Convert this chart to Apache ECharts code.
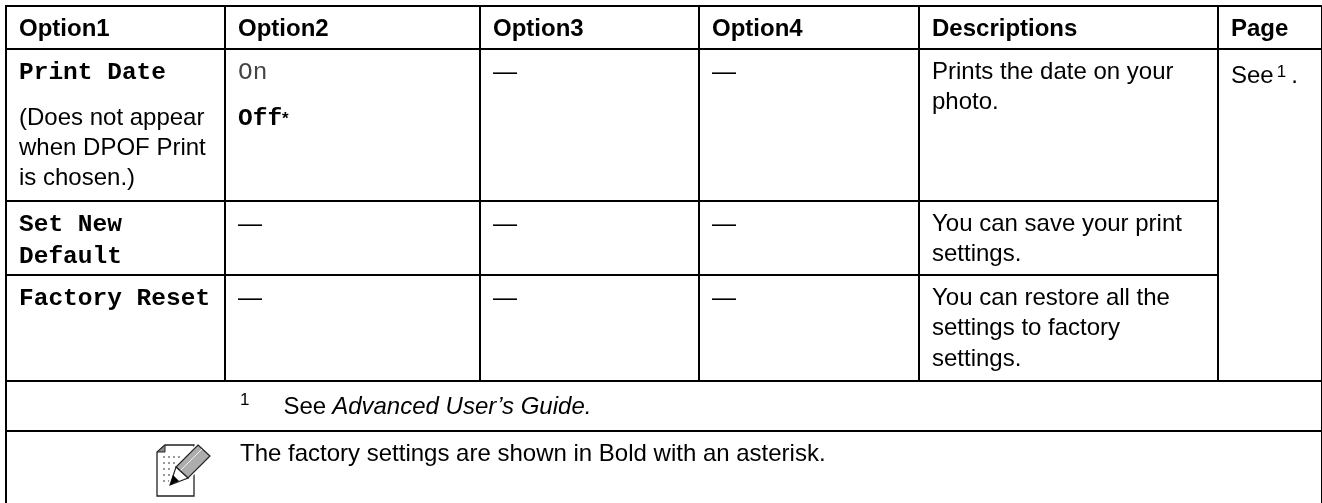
<!DOCTYPE html>
<html>
<head>
<meta charset="utf-8">
<style>
  html, body { margin: 0; padding: 0; background: #fff; }
  #main { width: 1322px; height: 503px; }
</style>
<script src="https://cdn.jsdelivr.net/npm/echarts@6/dist/echarts.min.js"></script>
</head>
<body>
<div id="main"></div>
<script>
// table content
var headers = ['Option1', 'Option2', 'Option3', 'Option4', 'Descriptions', 'Page'];
var option1 = [
  '{mono|Print Date}\n{spacer| }\n{sans|(Does not appear}\n{sans|when DPOF Print}\n{sans|is chosen.)}',
  '{mono|Set New}\n{mono|Default}',
  '{mono|Factory Reset}'
];
var option2 = ['{monoThin|On}\n{gap|Off}{star|*}', '—', '—'];
var option3 = ['—', '—', '—'];
var option4 = ['—', '—', '—'];
var descriptions = [
  'Prints the date on your\nphoto.',
  'You can save your print\nsettings.',
  'You can restore all the\nsettings to factory\nsettings.'
];
var pageNote = '{seeLow|See}{gapA|}{supLow|1}{gapB|}{seeLow|.}';
var footnote = '{supTop|1}{pad|}{sans|See}{gapS|}{it|Advanced User\u2019s Guide.}';
var note = 'The factory settings are shown in Bold with an asterisk.';

// column widths and row heights, in px
var colSizes = [219, 255, 219, 220, 298.5, 104.5];
var rowSizes = [43, 152, 74, 106, 50, 92];

var sans = 'Liberation Sans, Arial, sans-serif';
var mono = 'Liberation Mono, Courier New, monospace';

var rich = {
  sans: { fontFamily: sans, fontSize: 24, lineHeight: 30, color: '#000' },
  spacer: { fontFamily: sans, fontSize: 10, lineHeight: 14, color: '#000' },
  mono: { fontFamily: mono, fontSize: 24.5, fontWeight: 'bold', lineHeight: 32, color: '#000' },
  monoThin: { fontFamily: mono, fontSize: 24.5, lineHeight: 32, color: '#444' },
  gap: { fontFamily: mono, fontSize: 24.5, fontWeight: 'bold', lineHeight: 60, color: '#000' },
  star: { fontFamily: sans, fontSize: 17, fontWeight: 'bold', lineHeight: 60, color: '#000' },
  seeLow: { fontFamily: sans, fontSize: 24, lineHeight: 38.5, color: '#000' },
  supLow: { fontFamily: sans, fontSize: 17, lineHeight: 20, color: '#000', verticalAlign: 'top', padding: [7, 0, 0, 0] },
  supTop: { fontFamily: sans, fontSize: 17, lineHeight: 20, color: '#000', verticalAlign: 'top' },
  it: { fontFamily: sans, fontSize: 24, fontStyle: 'italic', lineHeight: 30, color: '#000' },
  pad: { width: 34 },
  gapS: { width: 6 },
  gapA: { width: 3 },
  gapB: { width: 5 }
};

function cell(col, row, text, extra) {
  var item = {
    coord: [col, row],
    value: text,
    label: {
      show: true,
      position: 'insideTopLeft',
      distance: 0,
      padding: [8, 0, 0, 13],
      fontFamily: sans,
      fontSize: 24,
      lineHeight: 30.5,
      color: '#000',
      align: 'left',
      verticalAlign: 'top',
      overflow: 'none',
      width: 1300,
      rich: rich
    }
  };
  return Object.assign(item, extra || {});
}

var bodyData = [];
headers.forEach(function (h, i) {
  var c = cell(i, 0, h);
  c.label.fontWeight = 'bold';
  bodyData.push(c);
});
for (var r = 0; r < 3; r++) {
  bodyData.push(cell(0, r + 1, option1[r]));
  bodyData.push(cell(1, r + 1, option2[r]));
  bodyData.push(cell(2, r + 1, option3[r]));
  bodyData.push(cell(3, r + 1, option4[r]));
  bodyData.push(cell(4, r + 1, descriptions[r]));
}
bodyData.push(cell(5, 1, pageNote, { coord: [5, [1, 3]], mergeCells: true }));
var fn = cell(0, 4, footnote, { coord: [[0, 5], 4], mergeCells: true });
fn.label.padding = [11, 0, 0, 234];
bodyData.push(fn);
var nt = cell(0, 5, note, { coord: [[0, 5], 5], mergeCells: true });
nt.label.padding = [8, 0, 0, 234];
bodyData.push(nt);

// note icon: page with a pencil
var dots = [];
[456, 462, 468, 474, 480].forEach(function (y, i) {
  [163, 168, 173, 178].slice(0, 4 - Math.floor(i / 2)).forEach(function (x) {
    dots.push({ type: 'rect', shape: { x: x, y: y, width: 2, height: 2 }, style: { fill: '#999' } });
  });
});
var icon = {
  type: 'group',
  children: [
    { type: 'polygon', shape: { points: [[165, 445], [194, 445], [194, 496], [157, 496], [157, 452]] }, style: { fill: '#fff', stroke: '#222', lineWidth: 1.3 } },
    { type: 'polygon', shape: { points: [[165, 445], [165, 452], [157, 452]] }, style: { fill: '#888', stroke: '#222', lineWidth: 1 } }
  ].concat(dots).concat([
    { type: 'polygon', shape: { points: [[198, 445], [210, 456], [188, 478], [170, 485], [175, 468]] }, style: { fill: '#fff', stroke: '#fff', lineWidth: 4 } },
    { type: 'polygon', shape: { points: [[198, 445], [210, 456], [188, 478], [176, 467]] }, style: { fill: '#adadad', stroke: '#222', lineWidth: 1.2 } },
    { type: 'line', shape: { x1: 202, y1: 449, x2: 180, y2: 471 }, style: { stroke: '#eee', lineWidth: 1 } },
    { type: 'polygon', shape: { points: [[176, 467], [188, 478], [170, 485]] }, style: { fill: '#fff', stroke: '#222', lineWidth: 1.2 } },
    { type: 'polygon', shape: { points: [[173, 475], [179, 481], [170, 485]] }, style: { fill: '#000' } }
  ])
};

var myChart = echarts.init(document.getElementById('main'));

var option = {
  backgroundColor: '#fff',
  animation: false,
  matrix: {
    left: 6,
    top: 6,
    width: 1316,
    height: 517,
    x: {
      show: false,
      data: headers.map(function (h, i) { return { value: h, size: colSizes[i] }; })
    },
    y: {
      show: false,
      data: rowSizes.map(function (s, i) { return { value: 'r' + i, size: s }; })
    },
    body: {
      itemStyle: { borderColor: '#000', borderWidth: 2, color: '#fff' },
      data: bodyData
    },
    backgroundStyle: { borderColor: '#000', borderWidth: 2, color: '#fff' }
  },
  graphic: [icon]
};
option && myChart.setOption(option);
</script>
</body>
</html>
